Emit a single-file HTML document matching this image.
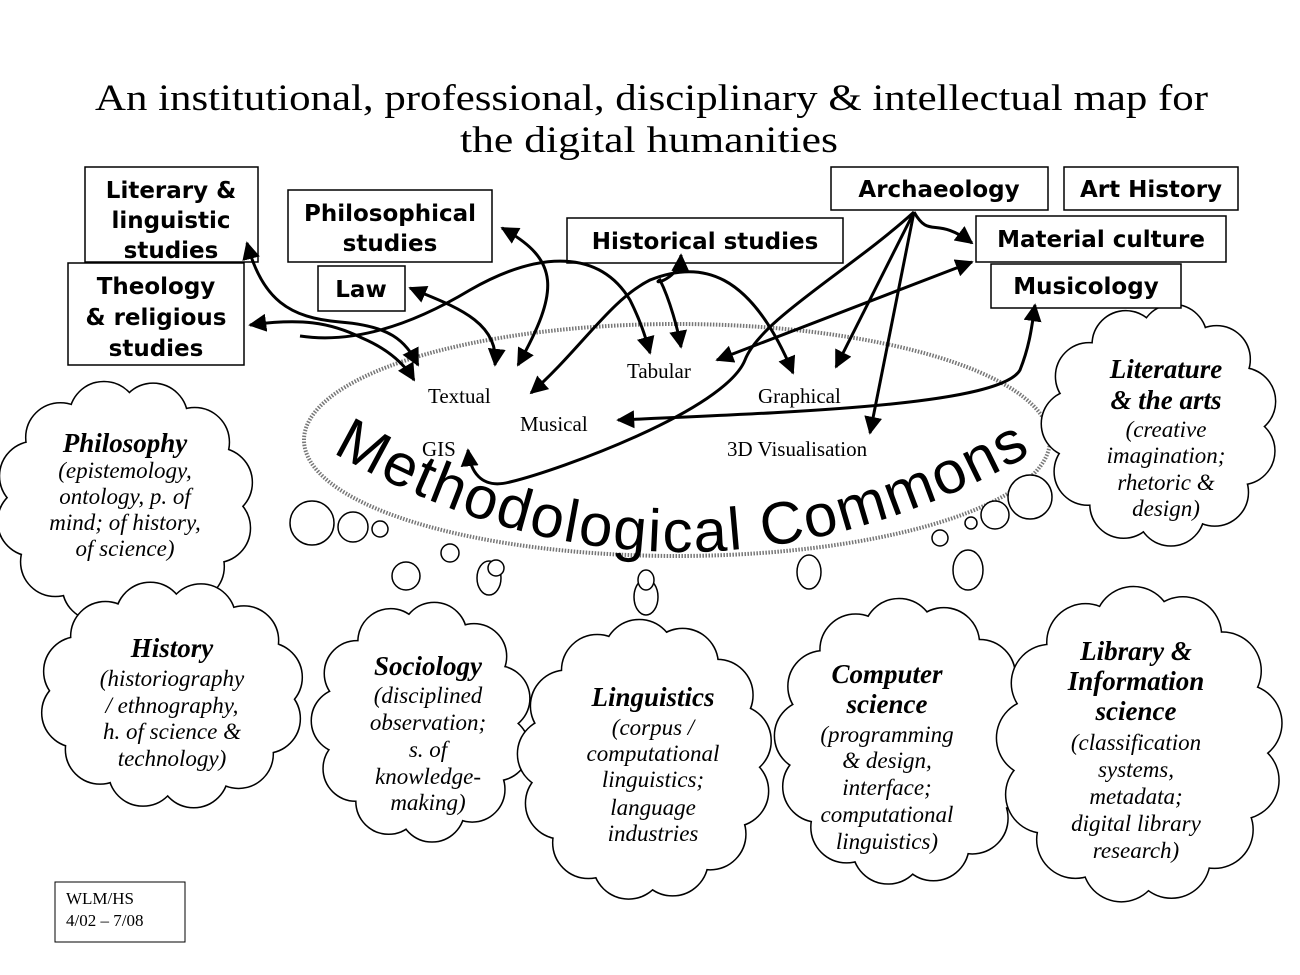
<!DOCTYPE html>
<html><head><meta charset="utf-8"><style>
html,body{margin:0;padding:0;background:#fff}
svg{display:block}
.bx{font-family:"DejaVu Sans","Liberation Sans",sans-serif;font-weight:bold;font-size:23px;text-anchor:middle}
.lb{font-family:"Liberation Serif",serif;font-size:21px}
.ct{font-family:"Liberation Serif",serif;font-style:italic;font-size:23px;text-anchor:middle}
.ctb{font-family:"Liberation Serif",serif;font-style:italic;font-weight:bold;font-size:27px;text-anchor:middle}
.ar{fill:none;stroke:#000;stroke-width:3}
</style></head><body>
<svg id="s" width="1300" height="975" viewBox="0 0 1300 975" xmlns="http://www.w3.org/2000/svg">
<defs>
<marker id="h" viewBox="0 0 10 10" refX="9" refY="5" markerWidth="6" markerHeight="6" orient="auto-start-reverse" markerUnits="strokeWidth"><path d="M0,0 L10,5 L0,10 z" fill="#000"/></marker>
</defs>
<text x="95" y="110" font-family="Liberation Serif,serif" font-size="37" textLength="1113" lengthAdjust="spacingAndGlyphs">An institutional, professional, disciplinary &amp; intellectual map for</text>
<text x="460" y="152" font-family="Liberation Serif,serif" font-size="37" textLength="378" lengthAdjust="spacingAndGlyphs">the digital humanities</text>

<ellipse cx="677" cy="440" rx="373" ry="116" fill="none" stroke="#777" stroke-width="4" stroke-dasharray="1.5 1.5"/>
<g id="clouds"></g>

<g fill="#fff" stroke="#000" stroke-width="1.5">
<circle cx="312" cy="523" r="22"/><circle cx="353" cy="527" r="15"/><circle cx="380" cy="529" r="8"/>
<circle cx="450" cy="553" r="9"/><circle cx="406" cy="576" r="14"/><ellipse cx="489" cy="578" rx="12" ry="17"/><circle cx="496" cy="568" r="8"/>
<ellipse cx="646" cy="597" rx="12" ry="18"/><ellipse cx="646" cy="580" rx="8" ry="10"/>
<ellipse cx="809" cy="572" rx="12" ry="17"/><circle cx="940" cy="538" r="8"/><circle cx="971" cy="523" r="6"/>
<circle cx="995" cy="515" r="14"/><circle cx="1030" cy="497" r="22"/><ellipse cx="968" cy="570" rx="15" ry="20"/>
</g>

<path id="mp" d="M 332,452 Q 680,652 1035,452" fill="none"/>
<text font-family="Liberation Sans,sans-serif" font-size="60" textLength="735" lengthAdjust="spacing"><textPath href="#mp">Methodological Commons</textPath></text>

<g class="lb">
<text x="428" y="403">Textual</text><text x="627" y="378">Tabular</text><text x="758" y="403">Graphical</text>
<text x="520" y="431">Musical</text><text x="422" y="456">GIS</text><text x="727" y="456">3D Visualisation</text>
</g>

<g fill="#fff" stroke="#000" stroke-width="1.5">
<rect x="85" y="167" width="173" height="95"/>
<rect x="68" y="263" width="176" height="102"/>
<rect x="288" y="190" width="204" height="72"/>
<rect x="318" y="266" width="87" height="45"/>
<rect x="567" y="218" width="276" height="45"/>
<rect x="831" y="167" width="217" height="43"/>
<rect x="1064" y="167" width="174" height="43"/>
<rect x="976" y="216" width="250" height="46"/>
<rect x="991" y="264" width="190" height="44"/>
</g>
<g class="bx">
<text x="171" y="198">Literary &amp;</text><text x="171" y="228">linguistic</text><text x="171" y="258">studies</text>
<text x="156" y="294">Theology</text><text x="156" y="325">&amp; religious</text><text x="156" y="356">studies</text>
<text x="390" y="221">Philosophical</text><text x="390" y="251">studies</text>
<text x="361" y="297">Law</text>
<text x="705" y="249">Historical studies</text>
<text x="939" y="197">Archaeology</text>
<text x="1151" y="197">Art History</text>
<text x="1101" y="247">Material culture</text>
<text x="1086" y="294">Musicology</text>
</g>

<g class="ar">
<path d="M247,243 C262,300 290,318 340,322 C390,326 405,340 418,365" marker-start="url(#h)" marker-end="url(#h)"/>
<path d="M250,325 C300,318 330,322 362,338 C390,350 405,365 414,380" marker-start="url(#h)" marker-end="url(#h)"/>
<path d="M300,336 C360,345 420,320 470,290 C540,250 600,250 630,300 C640,320 645,335 650,353" marker-end="url(#h)"/>
<path d="M410,288 C450,305 500,320 495,365" marker-start="url(#h)" marker-end="url(#h)"/>
<path d="M502,228 C560,260 560,290 518,365" marker-start="url(#h)" marker-end="url(#h)"/>
<path d="M681,255 C680,280 650,285 660,280 C670,300 678,330 681,347" marker-start="url(#h)" marker-end="url(#h)"/>
<path d="M531,393 C580,350 610,300 650,280 C700,260 750,270 793,373" marker-start="url(#h)" marker-end="url(#h)"/>
<path d="M914,212 L836,367" marker-end="url(#h)"/>
<path d="M914,212 L870,433" marker-end="url(#h)"/>
<path d="M914,212 C930,240 935,215 972,243" marker-end="url(#h)"/>
<path d="M972,262 L717,360" marker-start="url(#h)" marker-end="url(#h)"/>
<path d="M914,212 C850,270 760,320 745,360 C725,410 560,470 510,482 C480,490 470,470 468,450" marker-end="url(#h)"/>
<path d="M618,420 C800,412 1000,405 1020,370 C1030,345 1032,325 1035,305" marker-start="url(#h)" marker-end="url(#h)"/>
</g>

<rect x="55" y="882" width="130" height="60" fill="#fff" stroke="#000" stroke-width="1"/>
<text x="66" y="904" font-family="Liberation Serif,serif" font-size="17">WLM/HS</text>
<text x="66" y="926" font-family="Liberation Serif,serif" font-size="17">4/02 – 7/08</text>

<g id="ctext"></g>
</svg>
<script>
var NS="http://www.w3.org/2000/svg";
function el(t,a,p){var e=document.createElementNS(NS,t);for(var k in a)e.setAttribute(k,a[k]);p.appendChild(e);return e;}
var C=[
 [125,502,95,88,34,12],
 [172,695,98,80,34,12],
 [422,722,78,88,32,11],
 [645,760,92,105,35,13],
 [905,742,95,108,35,13],
 [1140,745,105,120,38,13],
 [1160,425,85,88,33,11]
];
var g=document.getElementById("clouds");
C.forEach(function(c){
 var sg=el("g",{},g), fg=el("g",{},g);
 el("ellipse",{cx:c[0],cy:c[1],rx:c[2],ry:c[3],fill:"none",stroke:"#000","stroke-width":3},sg);
 el("ellipse",{cx:c[0],cy:c[1],rx:c[2],ry:c[3],fill:"#fff"},fg);
 for(var i=0;i<c[5];i++){var a=i/c[5]*2*Math.PI+0.3;
  var x=c[0]+c[2]*Math.cos(a),y=c[1]+c[3]*Math.sin(a);
  el("circle",{cx:x,cy:y,r:c[4],fill:"none",stroke:"#000","stroke-width":3},sg);
  el("circle",{cx:x,cy:y,r:c[4],fill:"#fff"},fg);}
});
var T=[
 [125,[452],["Philosophy"],[478,504,530,556],["(epistemology,","ontology, p. of","mind; of history,","of science)"]],
 [172,[657],["History"],[686,713,739,766],["(historiography","/ ethnography,","h. of science &","technology)"]],
 [428,[675],["Sociology"],[703,730,757,784,810],["(disciplined","observation;","s. of","knowledge-","making)"]],
 [653,[706],["Linguistics"],[735,761,787,815,841],["(corpus /","computational","linguistics;","language","industries"]],
 [887,[683,713],["Computer","science"],[742,768,795,822,849],["(programming","& design,","interface;","computational","linguistics)"]],
 [1136,[660,690,720],["Library &","Information","science"],[750,777,804,831,858],["(classification","systems,","metadata;","digital library","research)"]],
 [1166,[378,409],["Literature","& the arts"],[437,463,490,516],["(creative","imagination;","rhetoric &","design)"]]
];
var tg=document.getElementById("ctext");
T.forEach(function(t){
 t[1].forEach(function(y,i){el("text",{x:t[0],y:y,"class":"ctb"},tg).textContent=t[2][i];});
 t[3].forEach(function(y,i){el("text",{x:t[0],y:y,"class":"ct"},tg).textContent=t[4][i];});
});
</script>
</body></html>
